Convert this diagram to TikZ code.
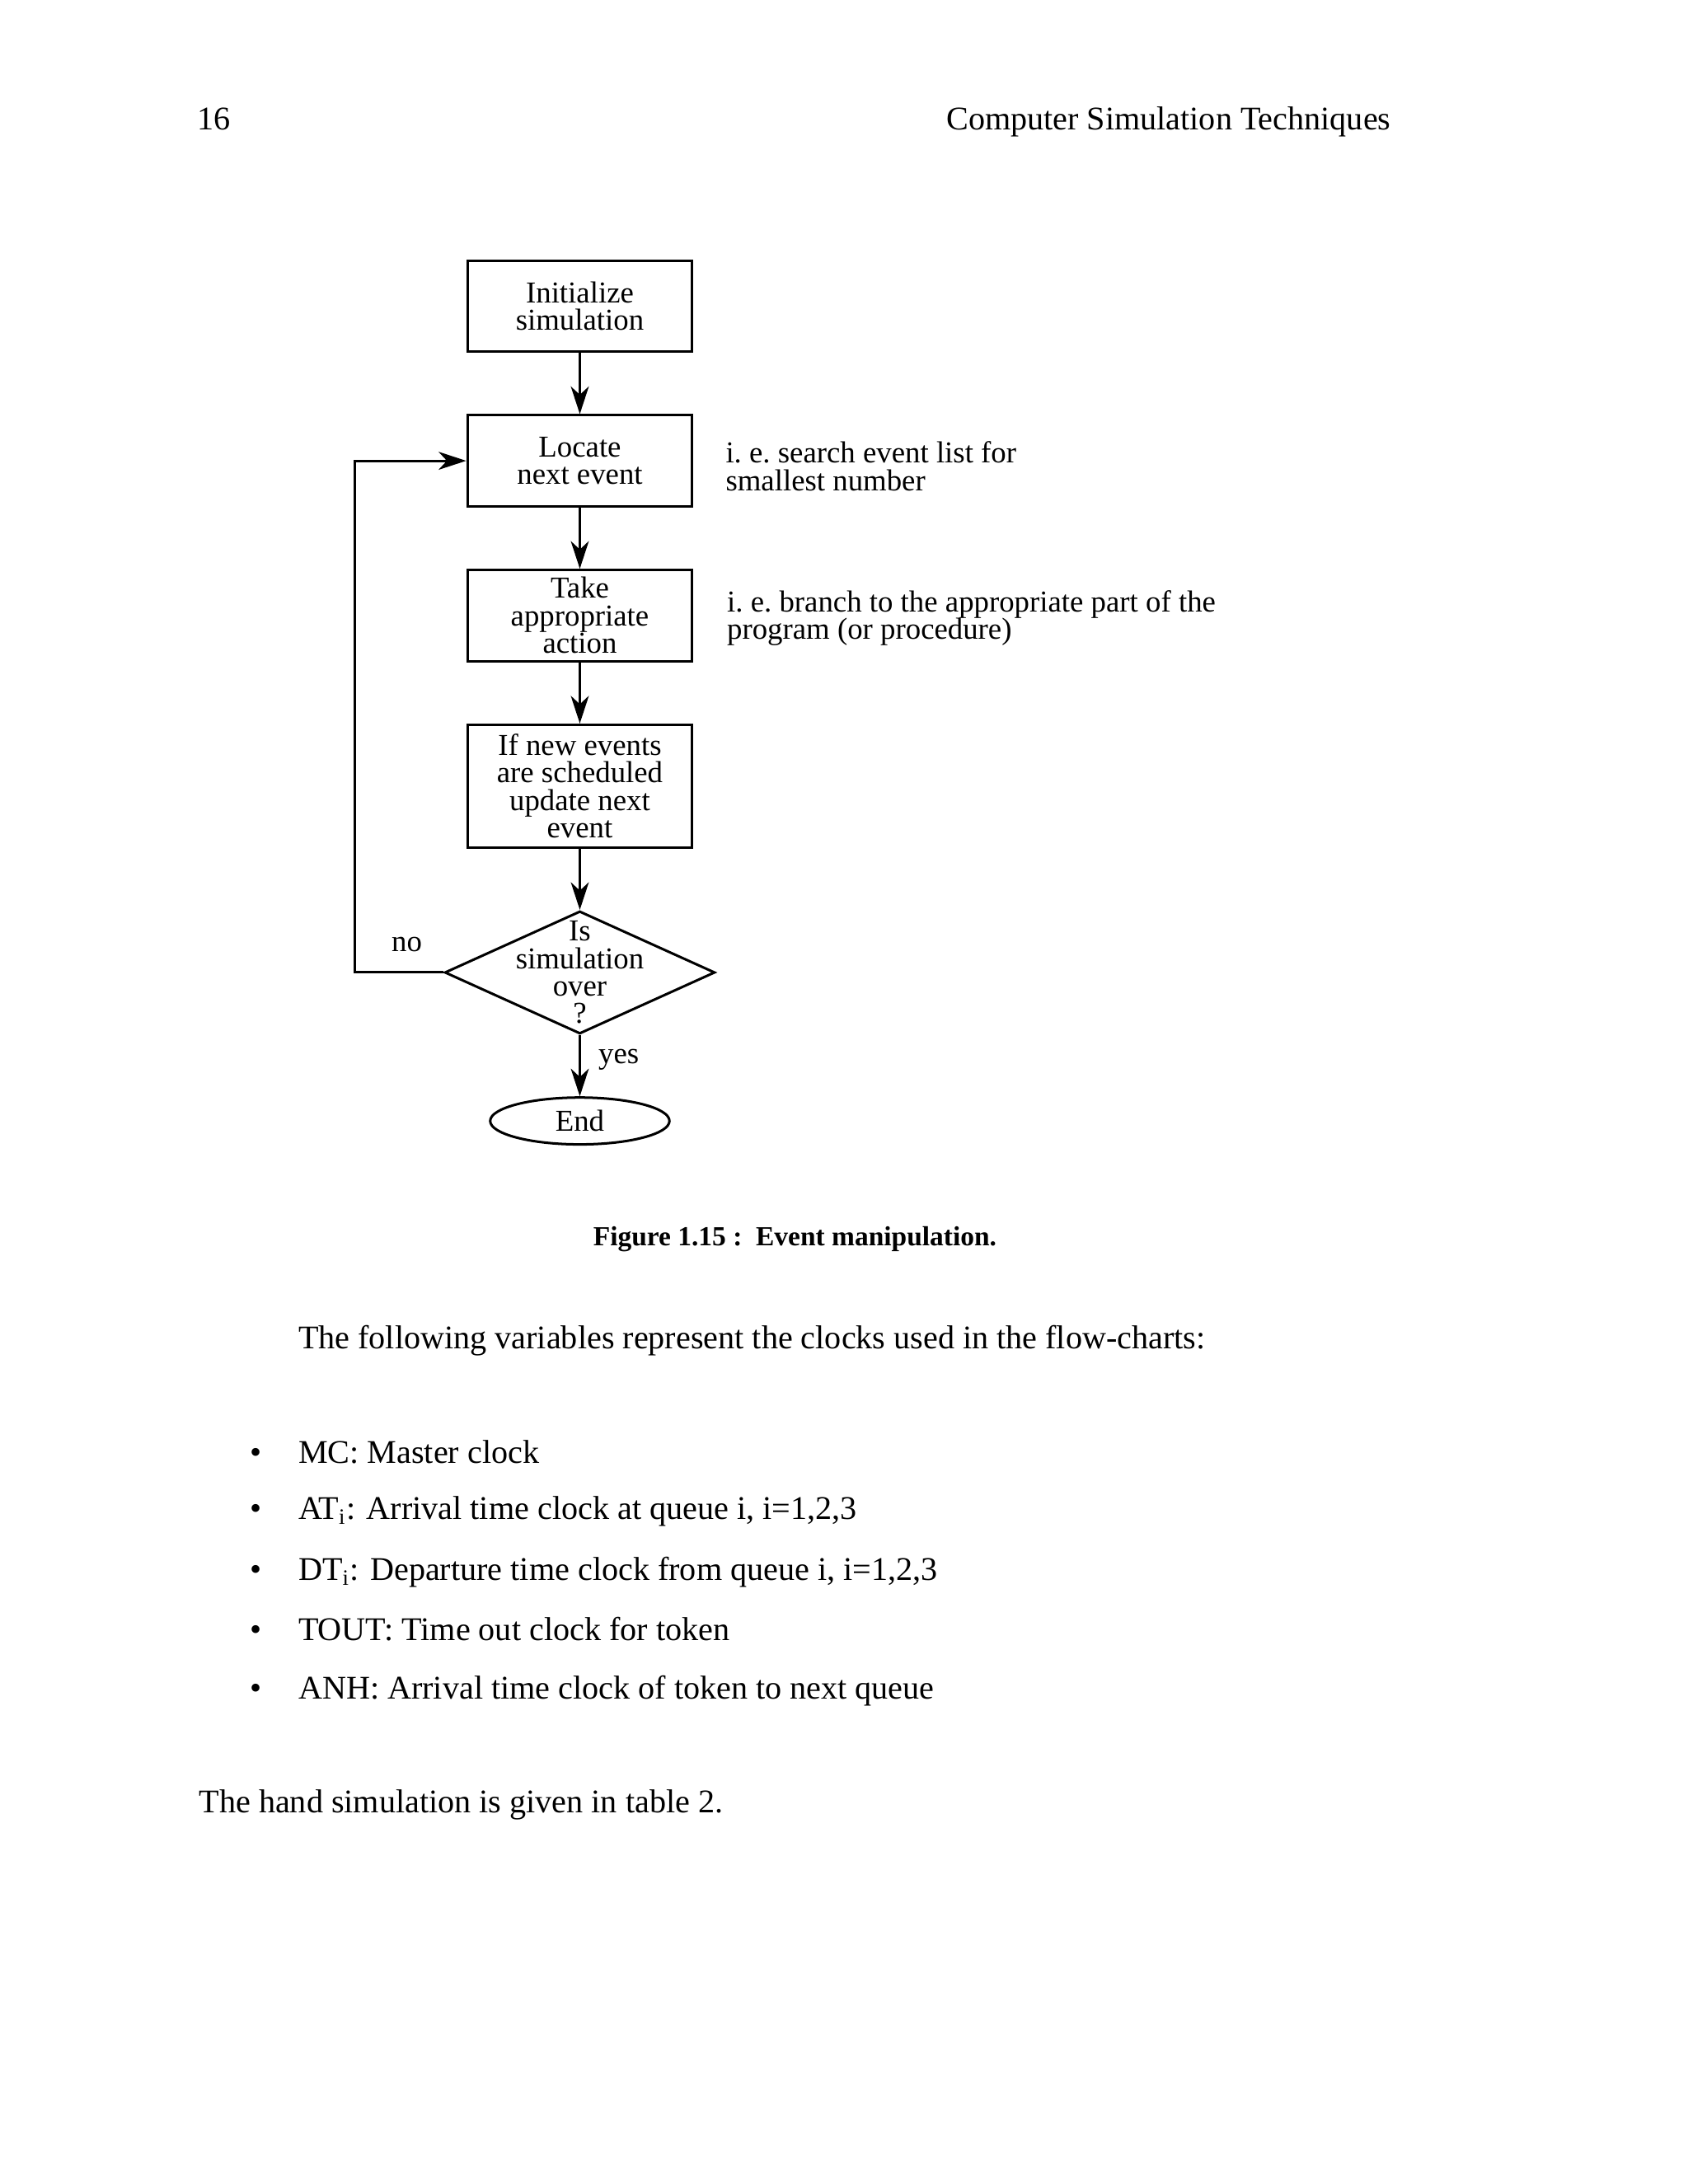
\documentclass[tikz,border=0pt]{standalone}
\usepackage{fontspec}
\setmainfont{Liberation Serif}
\usetikzlibrary{positioning,shapes.geometric,arrows.meta}

\begin{document}
\begin{tikzpicture}[node distance=22.2pt,
    chart/.style={font=\fontsize{11}{10}\selectfont},
    box/.style={chart, draw, rectangle, line width=0.9pt, minimum width=81.5pt,
      minimum height=33pt, inner sep=1pt, align=center},
    decision/.style={draw, diamond, line width=0.9pt, minimum width=98pt,
      minimum height=44.5pt, inner sep=0pt},
    terminal/.style={chart, draw, ellipse, line width=0.9pt, minimum width=65pt,
      minimum height=17pt, inner sep=0pt},
    note/.style={chart, align=left, inner sep=0pt},
    flow/.style={line width=0.9pt, -{Stealth[length=10pt,width=6.5pt,inset=3pt]}},
    body/.style={font=\fontsize{12}{14}\selectfont, anchor=base west, inner sep=0pt}]
  \useasboundingbox (0,0) rectangle (612pt,-792pt);

  % page header
  \node (pagenum) [body] at (71.5pt,-47pt) {16};
  \node (running) [body, anchor=base east] at (504.5pt,-47pt) {Computer Simulation Techniques};

  % flow chart
  \node (init) [box] at (210.25pt,-111pt) {Initialize\\simulation};
  \node (locate) [box, below=of init] {Locate\\next event};
  \node (act) [box, below=of locate] {Take\\appropriate\\action};
  \node (update) [box, below=of act, minimum height=44.5pt] {If new events\\are scheduled\\update next\\event};
  \node (over) [decision, below=of update,
    label={[chart, align=center]center:Is\\simulation\\over\\?}] {};
  \node (end) [terminal, below=of over] {End};

  \node (search) [note, right=11.5pt of locate, yshift=-2pt] {i.\ e.\ search event list for\\smallest number};
  \node (branch) [note, right=12pt of act, yshift=-1pt] {i.\ e.\ branch to the appropriate part of the\\program (or procedure)};

  \draw[flow] (init) -- (locate);
  \draw[flow] (locate) -- (act);
  \draw[flow] (act) -- (update);
  \draw[flow] (update) -- (over);
  \draw[flow] (over) -- node[chart, right, pos=0.4, xshift=3pt] (yes) {yes} (end);
  \draw[flow] (over.west) -- ++(-32pt,0) |- (locate.west);
  \node (no) [chart] at (147.5pt,-342.5pt) {no};

  \node (caption) [font=\fontsize{10}{12}\selectfont\bfseries, anchor=base] at (288.25pt,-451.75pt)
    {Figure 1.15 :~~Event manipulation.};

  % text below
  \node (intro) [body] at (108pt,-489pt) {The following variables represent the clocks used in the flow-charts:};
  \node (mc) [body] at (108pt,-530.5pt) {MC: Master clock};
  \node (at) [body] at (108pt,-551pt) {AT\textsubscript{i}: Arrival time clock at queue i, i=1,2,3};
  \node (dt) [body] at (108pt,-573pt) {DT\textsubscript{i}: Departure time clock from queue i, i=1,2,3};
  \node (tout) [body] at (108pt,-595pt) {TOUT: Time out clock for token};
  \node (anh) [body] at (108pt,-616pt) {ANH: Arrival time clock of token to next queue};
  \foreach \y in {530.5,551,573,595,616}
    \node [body] at (90.5pt,-\y pt) {\textbullet};
  \node (hand) [body] at (72pt,-657.5pt) {The hand simulation is given in table 2.};
\end{tikzpicture}
\end{document}
